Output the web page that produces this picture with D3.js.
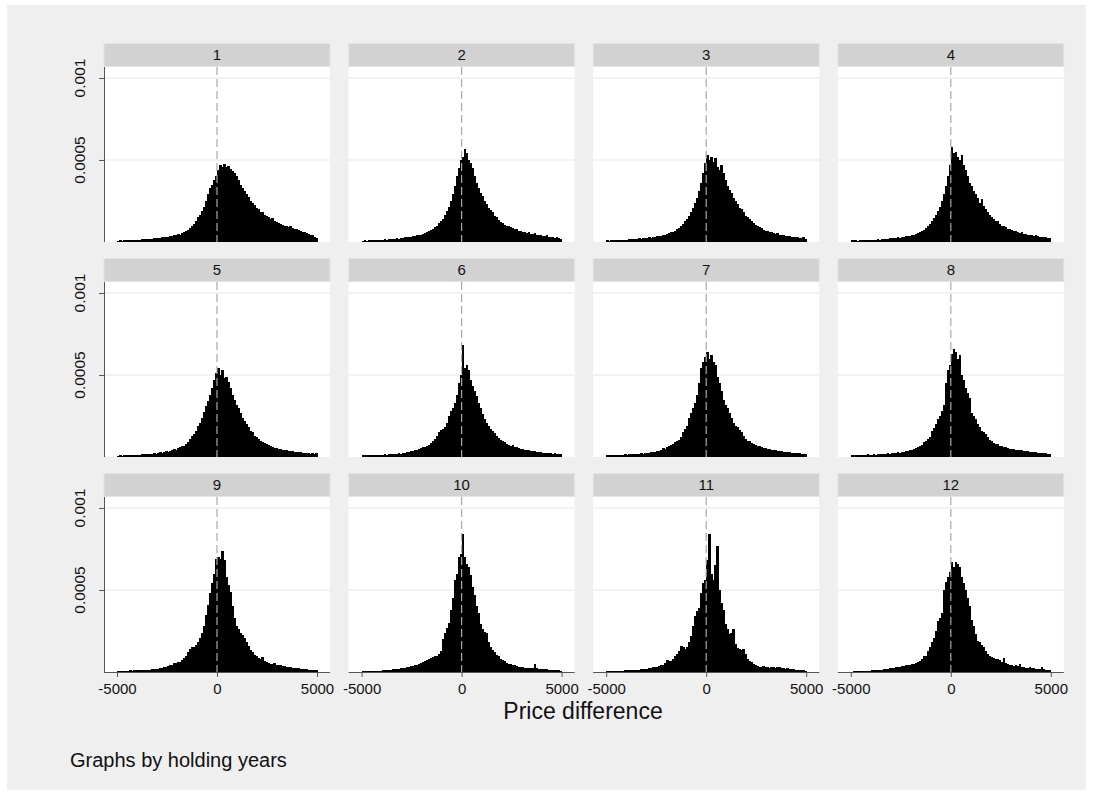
<!DOCTYPE html>
<html>
<head>
<meta charset="utf-8">
<script src="https://cdn.jsdelivr.net/npm/d3@7"></script>
<style>
  html, body { margin: 0; padding: 0; background: #ffffff; }
  svg { display: block; font-family: "Liberation Sans", Arial, Helvetica, sans-serif; }
</style>
</head>
<body>
<svg id="chart" width="1094" height="797"></svg>
<script>
// ---------------- DATA ----------------
const panelLabels = ["1","2","3","4","5","6","7","8","9","10","11","12"];
const binStart = -5000;      // first bin left edge (price difference)
const binWidth = 100;        // bin width
const densityUnit = 1e-6;    // histogram heights below are density x 1e6

const h1 = [8,10,9,11,10,12,11,13,12,14, 15,14,17,16,19,18,21,20,24,22, 26,25,30,28,33,31,37,35,42,40,
  48,45,56,60,68,75,88,95,110,125, 150,165,190,215,250,290,330,350,380,400,
  440,470,455,475,460,465,445,430,420,400, 380,350,330,310,290,275,250,240,225,210,
  200,185,180,165,160,150,140,145,125,120, 115,110,105,100,98,92,95,85,80,82, 75,70,62,60,55,50,45,40,32,25];
const h2 = [8,10,9,12,10,11,13,12,14,13, 15,16,15,18,17,19,20,22,21,24, 25,28,30,29,33,35,38,42,40,45,
  50,55,58,65,75,80,90,100,115,125, 140,165,190,215,250,290,340,400,450,500,
  520,570,540,500,480,450,400,360,330,300, 280,250,230,210,195,180,160,150,135,120,
  115,105,100,95,90,88,80,78,70,65, 60,62,55,58,50,48,52,45,42,40, 38,35,40,32,30,28,25,30,22,20];
const h3 = [10,9,12,11,13,10,12,14,13,15, 14,16,18,17,19,20,22,21,24,23, 26,28,27,32,30,35,38,36,42,45,
  48,52,58,62,70,78,85,95,110,125, 140,160,185,210,240,270,310,360,420,480,
  530,500,520,490,510,460,440,470,420,380, 340,320,300,270,250,230,210,200,180,160,
  150,140,130,115,105,95,92,85,75,70, 65,60,58,55,50,52,45,42,40,38, 36,35,30,32,28,30,25,24,28,20];
const h4 = [10,12,15,9,11,13,10,12,14,11, 13,15,14,16,15,18,17,19,20,22, 22,25,24,28,26,30,32,35,38,36,
  42,45,50,55,60,68,75,85,95,110, 125,145,165,190,215,250,290,340,400,470,
  580,540,550,520,500,530,470,440,400,360, 340,310,290,270,240,260,220,200,180,165,
  150,140,125,130,110,100,95,90,80,78, 72,68,65,60,55,58,50,48,45,42, 40,38,45,35,32,30,28,30,25,22];
const h5 = [8,10,9,11,12,10,13,12,14,13, 15,14,16,18,17,16,19,20,22,21, 24,28,26,30,35,32,38,42,48,45,
  55,60,65,70,80,90,110,125,140,160, 190,210,240,275,310,340,380,420,470,510,
  540,500,530,480,490,460,420,380,350,320, 300,270,240,220,200,180,160,150,130,120,
  110,100,90,85,78,72,68,60,55,52, 50,48,45,42,40,38,36,34,32,30, 30,28,26,25,24,22,20,22,18,24];
const h6 = [12,10,14,11,13,12,10,14,13,15, 14,16,15,17,18,16,20,19,22,21, 24,26,30,28,35,38,42,45,50,55,
  58,62,70,75,85,95,110,125,150,165, 170,185,210,250,280,300,330,380,450,500,
  680,540,560,530,470,430,400,370,330,300, 260,230,210,190,170,160,145,130,115,105,
  95,90,80,75,70,72,62,60,55,50, 48,45,42,40,38,36,35,33,30,28, 27,26,24,25,22,20,22,20,18,16];
const h7 = [10,12,11,13,12,14,13,15,12,16, 15,17,16,18,20,17,19,22,20,24, 26,25,30,28,32,35,38,42,55,48,
  60,65,72,80,90,100,105,120,150,170, 190,240,270,300,330,380,450,540,580,610,
  640,600,620,580,560,490,450,400,350,320, 300,270,240,210,190,180,165,150,130,110,
  100,95,88,80,75,70,65,60,55,52, 50,48,45,42,40,38,36,35,32,30, 30,28,26,25,24,22,22,20,18,16];
const h8 = [10,14,12,11,13,15,12,14,16,13, 15,17,14,18,16,19,18,20,22,21, 24,22,26,28,27,32,30,35,38,40,
  45,48,52,60,65,75,90,95,110,120, 160,175,200,230,250,280,320,450,530,560,
  630,660,640,600,620,500,470,420,390,360, 270,250,230,200,180,160,150,140,120,105,
  95,88,82,78,70,65,60,58,55,50, 48,46,44,42,40,45,38,35,34,32, 30,30,28,26,25,24,22,24,20,18];
const h9 = [5,6,8,7,9,8,10,9,11,10, 12,11,13,12,15,14,15,17,16,18, 20,22,25,28,30,35,40,45,52,55,
  58,62,75,85,100,120,140,150,155,165, 180,210,240,280,350,410,480,540,600,690,
  700,690,740,680,580,530,490,400,330,280, 260,240,225,205,180,160,135,120,105,95,
  88,80,90,70,60,55,50,48,52,42, 42,40,36,35,32,30,28,26,25,24, 22,20,18,20,16,15,14,15,12,10];
const h10 = [4,5,6,5,7,6,8,7,9,8, 10,11,12,14,15,16,17,18,20,22, 24,25,28,30,35,38,40,45,50,55,
  62,68,75,80,85,90,95,100,110,130, 200,235,270,300,380,450,560,600,700,720,
  840,700,660,640,590,520,470,400,360,290, 260,245,235,180,150,135,120,105,95,80,
  72,65,55,50,48,42,40,35,33,30, 28,25,26,24,22,24,50,22,20,18, 18,16,17,15,14,12,13,10,12,8];
const h11 = [4,6,5,7,6,8,7,9,8,10, 10,12,11,14,13,15,14,16,18,17, 20,22,25,28,32,30,35,40,45,55,
  75,65,70,80,100,110,130,160,150,140, 150,180,220,280,340,370,390,480,540,560,
  680,840,600,560,650,770,500,420,380,290, 260,230,240,260,170,145,140,135,140,110,
  80,70,60,50,40,35,32,30,35,28, 30,25,28,32,26,30,28,25,22,20, 22,18,20,16,15,14,12,10,12,8];
const h12 = [3,4,5,4,6,5,7,6,8,9, 10,12,11,13,15,14,16,18,20,22, 24,26,28,30,32,35,38,40,42,45,
  48,50,55,60,65,80,95,100,130,150, 180,210,250,310,330,360,500,550,580,610,
  670,640,670,660,640,580,540,500,450,400, 320,280,230,190,180,165,150,130,110,100,
  90,85,80,82,75,60,85,55,50,45, 40,38,42,35,48,30,28,25,26,30, 24,22,20,18,20,28,16,12,14,10];
const histograms = [h1,h2,h3,h4,h5,h6,h7,h8,h9,h10,h11,h12];

const xTickValues = [-5000, 0, 5000];
const xTickLabels = ["-5000", "0", "5000"];
const yTickValues = [0.0005, 0.001];
const yTickLabels = ["0.0005", "0.001"];
const xTitle = "Price difference";
const noteText = "Graphs by holding years";

// ---------------- LAYOUT ----------------
const svg = d3.select("#chart");
svg.append("rect").attr("x", 7).attr("y", 5).attr("width", 1079).attr("height", 785).attr("fill", "#efefef");

const nCols = 4, nRows = 3;
const plotW = 226, plotH = 175, stripH = 23;
const colX = d => 104 + d * 244.6;
const rowTop = r => 67 + r * 215;   // top of plot area

const xDomain = [-5650, 5650];
const yDomain = [0, 0.001067];

histograms.forEach((vals, k) => {
  const c = k % nCols, r = Math.floor(k / nCols);
  const x0 = colX(c), y0 = rowTop(r);
  const g = svg.append("g").attr("transform", `translate(${x0},${y0})`);
  const x = d3.scaleLinear().domain(xDomain).range([0, plotW]);
  const y = d3.scaleLinear().domain(yDomain).range([plotH, 0]);

  // strip header
  g.append("rect").attr("x", 0).attr("y", -stripH - 0.5).attr("width", plotW).attr("height", stripH)
    .attr("fill", "#d2d2d2").attr("stroke", "#dfe6ea").attr("stroke-width", 1);
  g.append("text").attr("x", plotW / 2).attr("y", -stripH / 2 - 0.5).attr("dy", "0.36em")
    .attr("text-anchor", "middle").attr("font-size", 15).attr("fill", "#111").text(panelLabels[k]);

  // plot region
  g.append("rect").attr("x", 0).attr("y", 0).attr("width", plotW).attr("height", plotH).attr("fill", "#ffffff");

  // grid lines
  g.selectAll("line.grid").data(yTickValues).enter().append("line").attr("class", "grid")
    .attr("x1", 0).attr("x2", plotW).attr("y1", d => y(d)).attr("y2", d => y(d))
    .attr("stroke", "#e6e6e6").attr("stroke-width", 1.2);

  // bars
  const bins = vals.map((v, i) => ({x0: binStart + i * binWidth, x1: binStart + (i + 1) * binWidth, v: v * densityUnit}));
  g.selectAll("rect.bar").data(bins).enter().append("rect").attr("class", "bar")
    .attr("x", d => x(d.x0)).attr("width", d => x(d.x1) - x(d.x0) + 0.5)
    .attr("y", d => y(d.v)).attr("height", d => y(0) - y(d.v))
    .attr("fill", "#000").attr("shape-rendering", "crispEdges");

  // reference line at 0
  g.append("line").attr("x1", x(0)).attr("x2", x(0)).attr("y1", 0).attr("y2", plotH)
    .attr("stroke", "#a8a8a8").attr("stroke-width", 1.2).attr("stroke-dasharray", "8,4");

  // y axis on left column
  if (c === 0) {
    const ya = g.append("g").call(d3.axisLeft(y).tickValues(yTickValues).tickSize(5).tickFormat(""));
    ya.select(".domain").attr("stroke", "#555").attr("d", `M0.5,0V${plotH}`);
    ya.selectAll(".tick line").attr("stroke", "#555");
    yTickValues.forEach((v, i) => {
      g.append("text").attr("transform", `translate(-19,${y(v)}) rotate(-90)`)
        .attr("text-anchor", "middle").attr("font-size", 15.5).attr("fill", "#111").text(yTickLabels[i]);
    });
  }
  // x axis on bottom row
  if (r === nRows - 1) {
    const xa = g.append("g").attr("transform", `translate(0,${plotH})`)
      .call(d3.axisBottom(x).tickValues(xTickValues).tickSize(5).tickFormat((d, i) => xTickLabels[i]));
    xa.select(".domain").attr("stroke", "#555").attr("d", `M0,0.5H${plotW}`);
    xa.selectAll(".tick line").attr("stroke", "#555");
    xa.selectAll(".tick text").attr("font-size", 15).attr("fill", "#111").attr("y", 11).attr("dy", "0.71em")
      .attr("font-family", "Liberation Sans, Arial, sans-serif");
  }
});

svg.append("text").attr("x", 583).attr("y", 719).attr("text-anchor", "middle")
  .attr("font-size", 23).attr("fill", "#111").text(xTitle);
svg.append("text").attr("x", 70).attr("y", 767).attr("font-size", 20).attr("fill", "#111").text(noteText);
</script>
</body>
</html>
